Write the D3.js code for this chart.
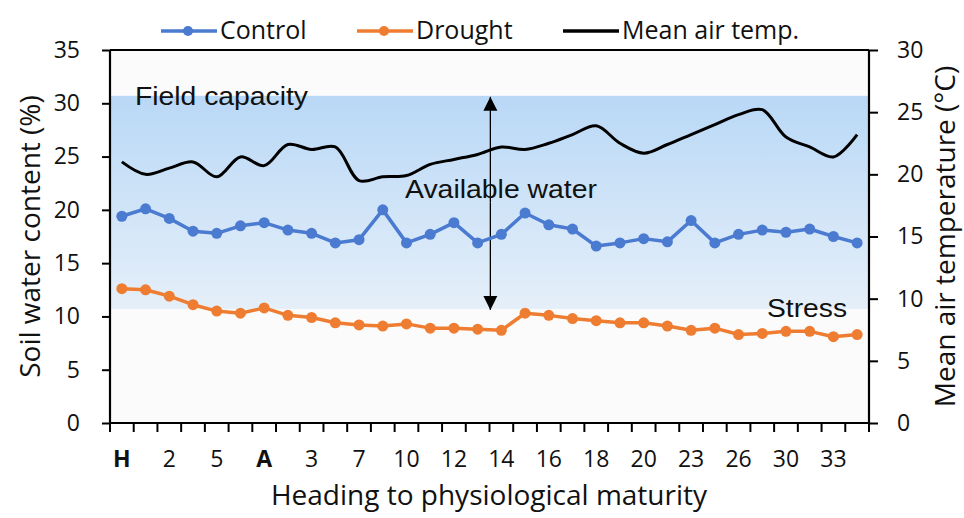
<!DOCTYPE html>
<html>
<head>
<meta charset="utf-8">
<script src="https://cdn.jsdelivr.net/npm/d3@7"></script>
<style>
  body { margin: 0; background: #ffffff; }
  svg { display: block; }
</style>
</head>
<body>
<svg id="chart" width="964" height="518"></svg>
<script>
// ---- Data ----
const xTickLabels = ["H","","2","","5","","A","","3","","7","","10","","12","","14","","16","","18","","20","","23","","26","","30","","33",""];
const boldLabels = ["H","A"];
const control = [19.4, 20.1, 19.2, 18.0, 17.8, 18.5, 18.8, 18.1, 17.8, 16.9, 17.2, 20.0, 16.9, 17.7, 18.8, 16.9,
                 17.7, 19.7, 18.6, 18.2, 16.6, 16.9, 17.3, 17.0, 19.0, 16.9, 17.7, 18.1, 17.9, 18.2, 17.5, 16.9];
const drought = [12.6, 12.5, 11.9, 11.1, 10.5, 10.3, 10.8, 10.1, 9.9, 9.4, 9.2, 9.1, 9.3, 8.9, 8.9, 8.8,
                 8.7, 10.3, 10.1, 9.8, 9.6, 9.4, 9.4, 9.1, 8.7, 8.9, 8.3, 8.4, 8.6, 8.6, 8.1, 8.3];
const meanTemp = [21.0, 20.0, 20.5, 21.0, 19.8, 21.4, 20.7, 22.4, 22.0, 22.2, 19.5, 19.8, 19.9, 20.8, 21.2, 21.6,
                  22.2, 22.0, 22.5, 23.2, 23.9, 22.5, 21.7, 22.4, 23.2, 24.0, 24.8, 25.2, 23.0, 22.2, 21.4, 23.2];
const leftTicks = [0, 5, 10, 15, 20, 25, 30, 35];
const rightTicks = [0, 5, 10, 15, 20, 25, 30];
const fieldCapacity = 30.7;
const stressLevel = 10.7;

// ---- Layout ----
const svg = d3.select("#chart");
const L = 110, R = 869, T = 50, B = 423;
const idx = d3.range(control.length);
const x = d3.scaleBand().domain(idx).range([L, R]).padding(0);
const yL = d3.scaleLinear().domain([0, 35]).range([B, T]);
const yR = d3.scaleLinear().domain([0, 30]).range([B, T]);
const cx = i => x(i) + x.bandwidth() / 2;

const tickFont = "'Open Sans', sans-serif";
const annFont = "'Liberation Sans', Arial, sans-serif";

// defs
const defs = svg.append("defs");
const grad = defs.append("linearGradient").attr("id", "band").attr("x1", 0).attr("y1", 0).attr("x2", 0).attr("y2", 1);
grad.append("stop").attr("offset", "0%").attr("stop-color", "#b9d8f6");
grad.append("stop").attr("offset", "100%").attr("stop-color", "#e5eff9");
defs.append("marker").attr("id", "arrowhead").attr("viewBox", "0 0 10 10")
  .attr("refX", 10).attr("refY", 5).attr("markerWidth", 14).attr("markerHeight", 16)
  .attr("markerUnits", "userSpaceOnUse").attr("orient", "auto")
  .append("path").attr("d", "M0,0 L10,5 L0,10 Z").attr("fill", "#000");

// plot background
svg.append("rect").attr("x", L).attr("y", T).attr("width", R - L).attr("height", B - T).attr("fill", "#fbfbfb");
svg.append("rect").attr("x", L).attr("y", yL(fieldCapacity)).attr("width", R - L)
  .attr("height", yL(stressLevel) - yL(fieldCapacity)).attr("fill", "url(#band)");

// arrow
const arrowX = cx(16) - 11;
const midY = (yL(fieldCapacity) + yL(stressLevel)) / 2;
svg.append("line").attr("x1", arrowX).attr("x2", arrowX).attr("y1", midY).attr("y2", yL(fieldCapacity) + 1)
  .attr("stroke", "#000").attr("stroke-width", 1.3).attr("marker-end", "url(#arrowhead)");
svg.append("line").attr("x1", arrowX).attr("x2", arrowX).attr("y1", midY).attr("y2", yL(stressLevel) + 1)
  .attr("stroke", "#000").attr("stroke-width", 1.3).attr("marker-end", "url(#arrowhead)");

// annotations
function ann(txt, xPos, yPos, len) {
  svg.append("text").attr("x", xPos).attr("y", yPos).attr("font-family", annFont).attr("font-size", 25)
    .attr("fill", "#111").attr("textLength", len).attr("lengthAdjust", "spacingAndGlyphs").text(txt);
}
ann("Field capacity", 135, 105, 173);
ann("Available water", 405, 198, 192);
ann("Stress", 767, 317, 80);

// temperature line
svg.append("path").datum(meanTemp)
  .attr("d", d3.line().x((d, i) => cx(i)).y(d => yR(d)).curve(d3.curveCatmullRom.alpha(0.5)))
  .attr("fill", "none").attr("stroke", "#000").attr("stroke-width", 3);

// series
function series(data, color) {
  svg.append("path").datum(data)
    .attr("d", d3.line().x((d, i) => cx(i)).y(d => yL(d)))
    .attr("fill", "none").attr("stroke", color).attr("stroke-width", 3.5).attr("stroke-linejoin", "round");
  svg.append("g").selectAll("circle").data(data).join("circle")
    .attr("cx", (d, i) => cx(i)).attr("cy", d => yL(d)).attr("r", 5.5).attr("fill", color);
}
series(control, "#4a7bd0");
series(drought, "#ee7d31");

// axes
const axL = svg.append("g").attr("transform", `translate(${L},0)`)
  .call(d3.axisLeft(yL).tickValues(leftTicks).tickSize(8).tickPadding(22));
const axR = svg.append("g").attr("transform", `translate(${R},0)`)
  .call(d3.axisRight(yR).tickValues(rightTicks).tickSize(9).tickPadding(19));
const axB = svg.append("g").attr("transform", `translate(0,${B})`)
  .call(d3.axisBottom(x).tickSize(0).tickPadding(28).tickFormat(i => xTickLabels[i]));
// boundary ticks for the category axis
svg.append("g").selectAll("line").data(d3.range(control.length + 1)).join("line")
  .attr("x1", i => L + i * x.bandwidth()).attr("x2", i => L + i * x.bandwidth())
  .attr("y1", B).attr("y2", B + 9).attr("stroke", "#000").attr("stroke-width", 2);

[axL, axR, axB].forEach(g => {
  g.select(".domain").attr("stroke", "#000").attr("stroke-width", 2.2);
  g.selectAll(".tick line").attr("stroke", "#000").attr("stroke-width", 2);
  g.selectAll(".tick text").attr("font-family", tickFont).attr("font-size", 23).attr("fill", "#111");
});
axB.select(".domain").attr("d", `M${L},0H${R}`);
axB.selectAll(".tick text").attr("font-weight", i => boldLabels.includes(xTickLabels[i]) ? "bold" : "normal");
axL.select(".domain").attr("d", `M0,${B}V${T}`);
axR.select(".domain").attr("d", `M0,${B}V${T}`);
// top border
svg.append("line").attr("x1", L).attr("x2", R).attr("y1", T).attr("y2", T).attr("stroke", "#000").attr("stroke-width", 2);

// axis titles
svg.append("text").attr("transform", `translate(40,${(T + B) / 2}) rotate(-90)`).attr("text-anchor", "middle")
  .attr("font-family", tickFont).attr("font-size", 28).attr("fill", "#111").text("Soil water content (%)");
svg.append("text").attr("transform", `translate(955,${(T + B) / 2}) rotate(-90)`).attr("text-anchor", "middle")
  .attr("font-family", tickFont).attr("font-size", 28).attr("fill", "#111").text("Mean air temperature (°C)");
svg.append("text").attr("x", 489).attr("y", 505).attr("text-anchor", "middle")
  .attr("font-family", tickFont).attr("font-size", 28).attr("fill", "#111").text("Heading to physiological maturity");

// legend
const legendItems = [
  { name: "Control", color: "#4a7bd0", marker: true, x: 161 },
  { name: "Drought", color: "#ee7d31", marker: true, x: 357 },
  { name: "Mean air temp.", color: "#000", marker: false, x: 563 }
];
const lg = svg.append("g").selectAll("g").data(legendItems).join("g").attr("transform", d => `translate(${d.x},31)`);
lg.append("line").attr("x1", 0).attr("x2", 56).attr("y1", 0).attr("y2", 0)
  .attr("stroke", d => d.color).attr("stroke-width", 3.3);
lg.filter(d => d.marker).append("circle").attr("cx", 27).attr("cy", 0).attr("r", 5).attr("fill", d => d.color);
lg.append("text").attr("x", 59).attr("y", 8).attr("font-family", tickFont).attr("font-size", 25).attr("fill", "#111")
  .text(d => d.name);
</script>
</body>
</html>
